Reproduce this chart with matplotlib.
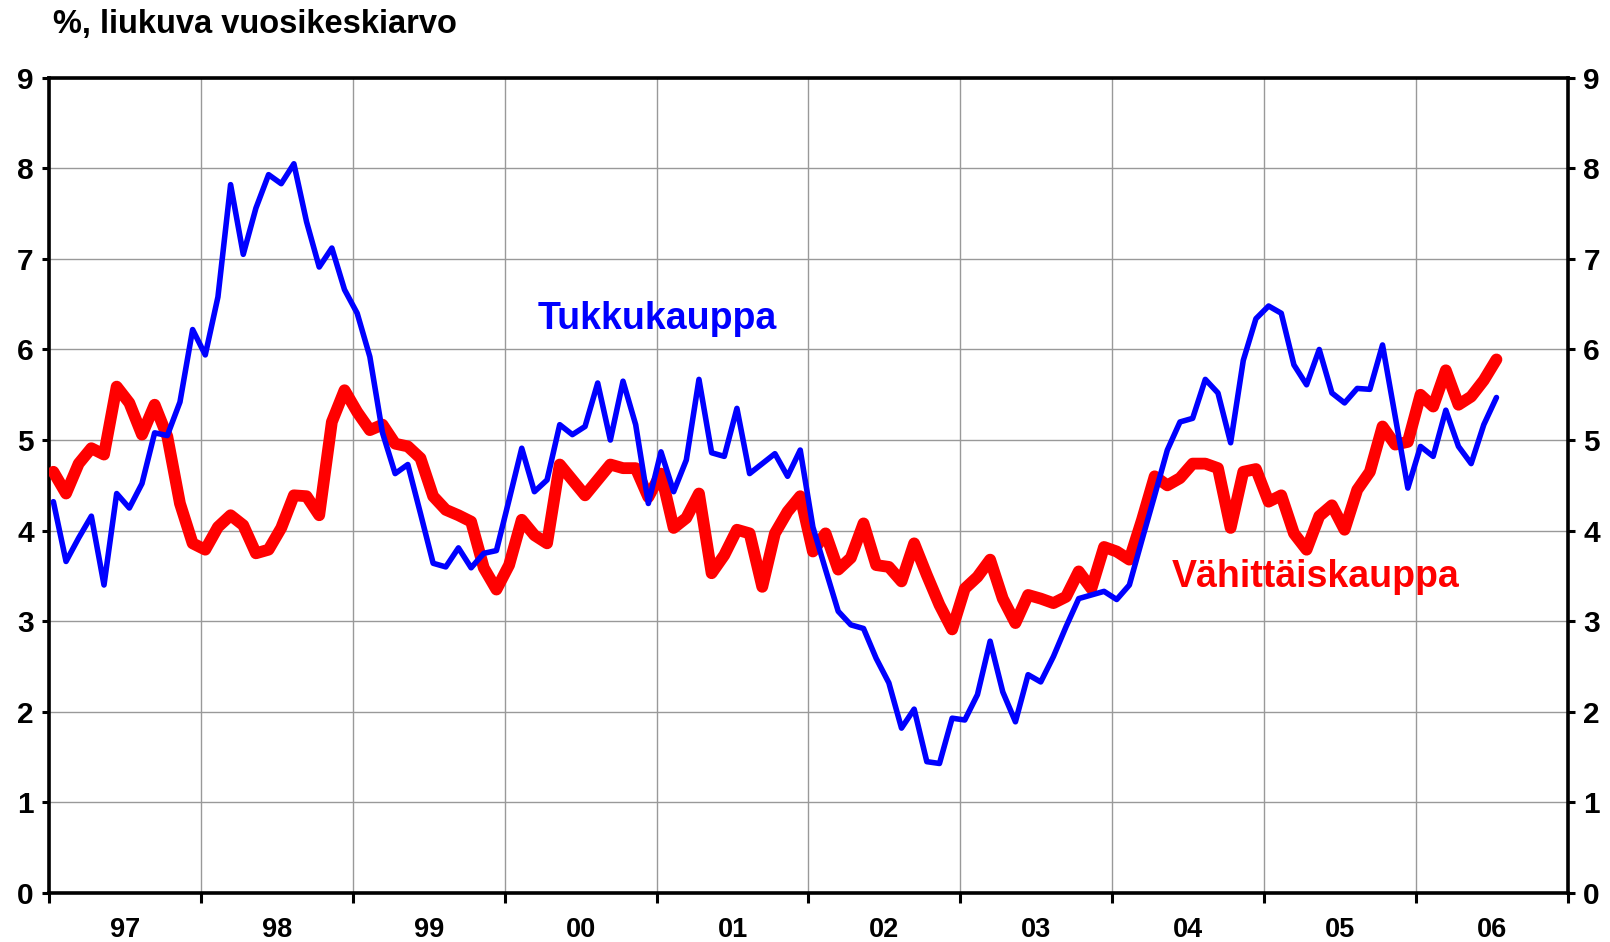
import numpy as np
import matplotlib
matplotlib.use('Agg')
import matplotlib.pyplot as plt

plt.rcParams['font.family'] = ['Liberation Sans', 'DejaVu Sans']
plt.rcParams['font.weight'] = 'bold'

# monthly values, Jan 1997 - Jul 2006 (moving 12-month average, %)
tukku = [4.32, 3.66, 3.92, 4.16, 3.40, 4.41, 4.25, 4.52, 5.08, 5.05, 5.42, 6.22,
         5.94, 6.58, 7.82, 7.05, 7.56, 7.93, 7.83, 8.05, 7.41, 6.91, 7.12, 6.66,
         6.40, 5.92, 5.08, 4.63, 4.73, 4.19, 3.64, 3.60, 3.81, 3.59, 3.75, 3.78,
         4.34, 4.91, 4.43, 4.56, 5.17, 5.06, 5.15, 5.63, 5.00, 5.65, 5.17, 4.30,
         4.87, 4.43, 4.78, 5.67, 4.86, 4.82, 5.35, 4.63, 4.74, 4.85, 4.60, 4.89,
         4.04, 3.57, 3.11, 2.96, 2.92, 2.59, 2.32, 1.82, 2.03, 1.45, 1.43, 1.93,
         1.91, 2.19, 2.78, 2.22, 1.89, 2.41, 2.33, 2.61, 2.94, 3.25, 3.29, 3.33,
         3.24, 3.40, 3.90, 4.39, 4.89, 5.20, 5.24, 5.67, 5.52, 4.97, 5.88, 6.34,
         6.48, 6.40, 5.83, 5.61, 6.00, 5.52, 5.41, 5.57, 5.56, 6.05, 5.26, 4.47,
         4.93, 4.82, 5.33, 4.93, 4.74, 5.17, 5.47]

vahittais = [4.65, 4.41, 4.74, 4.91, 4.84, 5.59, 5.41, 5.06, 5.39, 5.04, 4.30, 3.86,
             3.79, 4.04, 4.17, 4.06, 3.75, 3.79, 4.03, 4.39, 4.38, 4.17, 5.20, 5.55,
             5.31, 5.11, 5.17, 4.96, 4.93, 4.80, 4.38, 4.23, 4.17, 4.10, 3.59, 3.35,
             3.62, 4.12, 3.95, 3.86, 4.73, 4.56, 4.39, 4.56, 4.73, 4.69, 4.69, 4.37,
             4.63, 4.03, 4.14, 4.41, 3.53, 3.73, 4.01, 3.97, 3.38, 3.97, 4.21, 4.38,
             3.77, 3.97, 3.57, 3.70, 4.08, 3.62, 3.60, 3.44, 3.86, 3.51, 3.18, 2.91,
             3.36, 3.49, 3.68, 3.25, 2.98, 3.29, 3.25, 3.20, 3.27, 3.55, 3.36, 3.82,
             3.77, 3.68, 4.12, 4.60, 4.50, 4.58, 4.74, 4.74, 4.69, 4.03, 4.65, 4.68,
             4.32, 4.39, 3.97, 3.79, 4.16, 4.28, 4.01, 4.45, 4.65, 5.15, 4.95, 4.98,
             5.50, 5.37, 5.77, 5.39, 5.48, 5.66, 5.89]

vuodet = ['97', '98', '99', '00', '01', '02', '03', '04', '05', '06']

kk = np.arange(len(tukku)) + 0.35

fig = plt.figure(figsize=(16.1, 9.42), dpi=100)
ax = fig.add_axes([0.0304, 0.052, 0.9435, 0.8655])

ax.plot(kk, vahittais, color='#ff0000', lw=8.5, solid_joinstyle='round',
        solid_capstyle='round', zorder=3)
ax.plot(kk, tukku, color='#0000ff', lw=4.0, solid_joinstyle='round',
        solid_capstyle='round', zorder=4)

ax.set_xlim(0, 120)
ax.set_ylim(0, 9)

ax.set_xticks(np.arange(0, 121, 12))
ax.set_xticklabels([])
ax.set_xticks(np.arange(6, 120, 12), minor=True)
ax.set_xticklabels(vuodet, minor=True)
ax.set_yticks(range(0, 10))

ax.grid(True, which='major', color='#999999', lw=1.0, zorder=0)

for s in ax.spines.values():
    s.set_linewidth(2.6)

ax.tick_params(axis='x', which='major', length=7, width=2.2, direction='out')
ax.tick_params(axis='x', which='minor', length=0, pad=17, labelsize=19.5)
ax.tick_params(axis='y', which='major', length=5, width=2.2, direction='out',
               left=True, right=True, labelleft=True, labelright=True,
               labelsize=21.5, pad=6)

ax.text(38.6, 6.34, 'Tukkukauppa', color='#0000ff', fontsize=27,
        fontweight='bold', va='center')
ax.text(88.7, 3.49, 'Vähittäiskauppa', color='#ff0000', fontsize=27,
        fontweight='bold', va='center')

fig.text(0.033, 0.965, '%, liukuva vuosikeskiarvo', fontsize=23.5,
         fontweight='bold', va='baseline', ha='left')

fig.savefig('out.png', dpi=100)
